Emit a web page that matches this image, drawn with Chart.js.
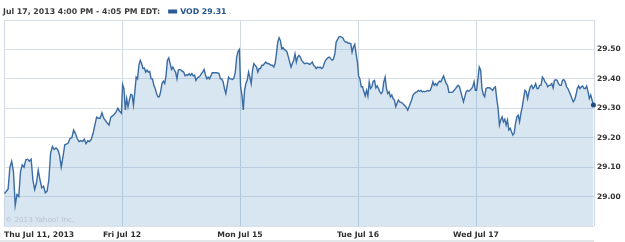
<!DOCTYPE html>
<html>
<head>
<meta charset="utf-8">
<script src="https://cdn.jsdelivr.net/npm/chart.js@4.4.1/dist/chart.umd.min.js"></script>
<style>
  body { margin: 0; background: #fff; }
  #wrap { width: 625px; height: 242px; position: relative; }
</style>
</head>
<body>
<div id="wrap"><canvas id="vodChart"></canvas></div>
<script>
// day labels for the x axis (last one is the closing edge, left blank)
var dayLabels = ["Thu Jul 11, 2013", "Fri Jul 12", "Mon Jul 15", "Tue Jul 16", "Wed Jul 17", ""];

// y ticks that carry a label
var yLabelMin = 29.00;
var yLabelMax = 29.50;

var headerText = "Jul 17, 2013 4:00 PM - 4:05 PM EDT:";
var tickerName = "VOD";
var copyrightText = "\u00a9 2013 Yahoo! Inc.";

// intraday prices, one array per session
var day1 = [29.010, 29.018, 29.026, 29.100, 29.120, 29.085, 28.970, 29.007, 29.000, 29.085,
            29.108, 29.100, 29.125, 29.127, 29.120, 29.127, 29.057, 29.024, 29.046, 29.090,
            29.057, 29.030, 29.035, 29.013, 29.018, 29.057, 29.148, 29.170, 29.160, 29.165,
            29.160, 29.142, 29.100, 29.136, 29.176, 29.178, 29.183, 29.198, 29.200, 29.226,
            29.215, 29.198, 29.187, 29.190, 29.187, 29.195, 29.180, 29.190, 29.187, 29.195,
            29.215, 29.243, 29.270, 29.266, 29.266, 29.285, 29.266, 29.258, 29.250, 29.243,
            29.270, 29.274, 29.280, 29.288, 29.300, 29.290, 29.283];

var day2 = [29.381, 29.367, 29.294, 29.333, 29.305, 29.328, 29.347, 29.345, 29.311, 29.356,
            29.406, 29.400, 29.446, 29.463, 29.452, 29.435, 29.437, 29.423, 29.430, 29.423,
            29.425, 29.400, 29.400, 29.378, 29.367, 29.350, 29.339, 29.339, 29.356, 29.384,
            29.392, 29.384, 29.412, 29.463, 29.471, 29.452, 29.432, 29.440, 29.430, 29.423,
            29.400, 29.430, 29.432, 29.430, 29.425, 29.423, 29.410, 29.414, 29.412, 29.418,
            29.412, 29.418, 29.410, 29.412, 29.395, 29.403, 29.406, 29.410, 29.418, 29.423,
            29.432, 29.414, 29.400, 29.406, 29.400, 29.410, 29.421, 29.421, 29.421, 29.421,
            29.420, 29.418, 29.400, 29.400, 29.390, 29.367, 29.350, 29.378, 29.406, 29.400,
            29.400, 29.398, 29.403, 29.423, 29.474, 29.493, 29.500];

var day3 = [29.373, 29.345, 29.294, 29.361, 29.384, 29.395, 29.423, 29.406, 29.384, 29.430,
            29.452, 29.446, 29.440, 29.423, 29.435, 29.435, 29.446, 29.446, 29.452, 29.457,
            29.452, 29.452, 29.449, 29.446, 29.446, 29.440, 29.452, 29.485, 29.525, 29.540,
            29.530, 29.502, 29.506, 29.499, 29.497, 29.491, 29.474, 29.457, 29.440, 29.452,
            29.463, 29.485, 29.457, 29.474, 29.480, 29.474, 29.463, 29.457, 29.452, 29.452,
            29.454, 29.452, 29.449, 29.452, 29.457, 29.446, 29.442, 29.435, 29.440, 29.438,
            29.440, 29.435, 29.438, 29.452, 29.463, 29.468, 29.472, 29.474, 29.468, 29.463,
            29.468, 29.485, 29.525, 29.533, 29.542, 29.544, 29.542, 29.540, 29.530, 29.525,
            29.525, 29.521, 29.521, 29.520, 29.491, 29.508, 29.517, 29.485, 29.457];

var day4 = [29.410, 29.400, 29.373, 29.373, 29.356, 29.342, 29.361, 29.342, 29.390, 29.367,
            29.373, 29.392, 29.395, 29.369, 29.376, 29.367, 29.356, 29.350, 29.356, 29.390,
            29.406, 29.367, 29.350, 29.356, 29.339, 29.345, 29.333, 29.328, 29.305, 29.317,
            29.328, 29.322, 29.320, 29.317, 29.313, 29.308, 29.302, 29.294, 29.305, 29.317,
            29.328, 29.345, 29.350, 29.354, 29.356, 29.361, 29.358, 29.361, 29.356, 29.358,
            29.356, 29.358, 29.361, 29.358, 29.361, 29.373, 29.390, 29.378, 29.384, 29.378,
            29.387, 29.392, 29.390, 29.400, 29.410, 29.397, 29.384, 29.378, 29.354, 29.354,
            29.354, 29.356, 29.361, 29.367, 29.373, 29.378, 29.373, 29.356, 29.339, 29.322,
            29.339, 29.356, 29.361, 29.358, 29.361, 29.367, 29.373, 29.390, 29.361];

var day5 = [29.361, 29.400, 29.440, 29.430, 29.367, 29.347, 29.339, 29.367, 29.370, 29.370,
            29.369, 29.365, 29.361, 29.369, 29.373, 29.333, 29.300, 29.243, 29.260, 29.271,
            29.254, 29.263, 29.243, 29.260, 29.226, 29.232, 29.220, 29.209, 29.215, 29.249,
            29.271, 29.277, 29.254, 29.283, 29.305, 29.333, 29.361, 29.356, 29.333, 29.356,
            29.373, 29.378, 29.367, 29.373, 29.384, 29.367, 29.367, 29.378, 29.378, 29.406,
            29.400, 29.390, 29.384, 29.373, 29.378, 29.378, 29.384, 29.369, 29.395, 29.397,
            29.395, 29.384, 29.378, 29.378, 29.395, 29.397, 29.390, 29.373, 29.367, 29.356,
            29.345, 29.333, 29.322, 29.328, 29.345, 29.367, 29.376, 29.367, 29.373, 29.376,
            29.367, 29.367, 29.376, 29.356, 29.333, 29.345, 29.328, 29.311];

var days = [day1, day2, day3, day4, day5];

// spread each session evenly over its day slot
var points = [];
days.forEach(function (arr, d) {
    arr.forEach(function (v, i) {
        points.push({ x: d + 0.005 + 0.99 * i / (arr.length - 1), y: v });
    });
});
var lastIdx = points.length - 1;
var lastPrice = points[lastIdx].y.toFixed(2);

var FONT = '"DejaVu Sans", Verdana, sans-serif';

var decor = {
    id: 'decor',
    afterDatasetsDraw: function (chart) {
        var ctx = chart.ctx;
        var area = chart.chartArea;
        ctx.save();
        ctx.font = '7.2px ' + FONT;
        ctx.fillStyle = '#b9c5cf';
        ctx.textBaseline = 'alphabetic';
        ctx.fillText(copyrightText, 5, area.bottom - 4);
        ctx.restore();
    },
    afterDraw: function (chart) {
        var ctx = chart.ctx;
        var area = chart.chartArea;
        ctx.save();
        ctx.font = 'bold 7.8px ' + FONT;
        ctx.textBaseline = 'middle';
        ctx.fillStyle = '#3b3b3b';
        ctx.fillText(headerText, 3, 11.5);
        var w = ctx.measureText(headerText).width;
        var sx = 3 + w + 8;
        ctx.fillStyle = '#2b5b95';
        ctx.fillRect(sx, 9.5, 9, 4);
        ctx.fillStyle = '#24548f';
        ctx.fillText(tickerName + ' ' + lastPrice, sx + 12, 11.5);
        // thin rule under the date labels
        ctx.fillStyle = '#e4e7ea';
        ctx.fillRect(0, 240, area.right, 2);
        ctx.restore();
    }
};

var ctx = document.getElementById('vodChart');
var vodChart = new Chart(ctx, {
    type: 'line',
    data: {
        datasets: [{
            data: points,
            borderColor: '#3a6ca3',
            borderWidth: 1.4,
            backgroundColor: 'rgba(60,130,190,0.2)',
            fill: 'start',
            tension: 0,
            clip: false,
            pointRadius: function (c) { return c.dataIndex === lastIdx ? 2.5 : 0; },
            pointBackgroundColor: '#1f4c84',
            pointBorderWidth: 0,
            pointHoverRadius: 0
        }]
    },
    options: {
        responsive: true,
        maintainAspectRatio: false,
        animation: false,
        events: [],
        layout: { padding: { top: 20, left: 2, right: 0, bottom: 0 } },
        plugins: {
            legend: { display: false },
            tooltip: { enabled: false }
        },
        scales: {
            x: {
                type: 'linear',
                min: 0,
                max: 5,
                afterFit: function (s) { s.height = 16; },
                border: { display: false },
                grid: { color: '#cfd9e3', lineWidth: 1, drawTicks: false },
                ticks: {
                    stepSize: 1,
                    autoSkip: false,
                    maxRotation: 0,
                    align: 'inner',
                    padding: 4,
                    color: '#2e2e2e',
                    font: { family: FONT, size: 7.7, weight: 'bold' },
                    callback: function (v) { return dayLabels[Math.round(v)]; }
                }
            },
            y: {
                position: 'right',
                min: 28.90,
                max: 29.60,
                afterFit: function (s) { s.width = 31; },
                border: { display: false },
                grid: { color: '#dae0e7', lineWidth: 1, drawTicks: false },
                ticks: {
                    stepSize: 0.1,
                    padding: 3,
                    color: '#333333',
                    font: { family: FONT, size: 7.5, weight: 'bold' },
                    callback: function (v) {
                        if (v < yLabelMin - 0.01 || v > yLabelMax + 0.01) return '';
                        return v.toFixed(2);
                    }
                }
            }
        }
    },
    plugins: [decor]
});
</script>
</body>
</html>
